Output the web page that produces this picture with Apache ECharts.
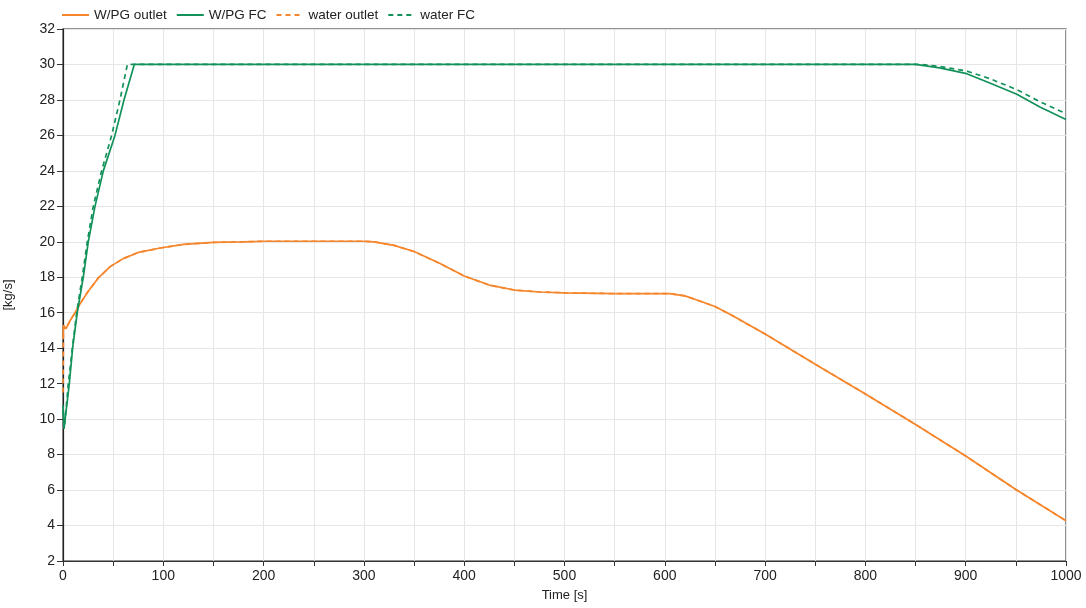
<!DOCTYPE html>
<html>
<head>
<meta charset="utf-8">
<script src="https://cdn.jsdelivr.net/npm/echarts@6/dist/echarts.min.js"></script>
<style>
  html, body { margin: 0; padding: 0; background: #fff; }
  #chart { width: 1086px; height: 608px; }
</style>
</head>
<body>
<div id="chart"></div>
<script>
// Mass flow rates over time [s] in [kg/s]
const seriesNames = ['W/PG outlet', 'W/PG FC', 'water outlet', 'water FC'];

const wpgOutletTime = [0, 0.5, 3, 7, 12, 17, 25, 35, 47, 60, 75, 97, 120, 150, 180, 200, 300, 310, 330, 350, 375, 400, 425, 450, 475, 500, 550, 605, 620, 632, 650, 665, 700, 750, 800, 850, 900, 950, 1000];
const wpgOutletValue = [14.5, 15.3, 15.1, 15.55, 16.0, 16.5, 17.2, 17.95, 18.6, 19.05, 19.4, 19.65, 19.85, 19.97, 20.0, 20.03, 20.03, 20.0, 19.8, 19.45, 18.8, 18.07, 17.56, 17.28, 17.17, 17.12, 17.08, 17.08, 16.95, 16.72, 16.35, 15.91, 14.8, 13.1, 11.42, 9.7, 7.92, 6.03, 4.27];

const wpgFcTime = [0, 1, 6.3, 9.6, 14.2, 20.2, 25.2, 31.9, 40.2, 51.8, 60.8, 71.1, 850, 874, 901, 924, 951, 974, 1000];
const wpgFcValue = [10.8, 9.45, 12, 14, 16, 18, 20, 22, 24, 26, 28, 30, 30, 29.81, 29.48, 28.95, 28.32, 27.6, 26.9];

const waterOutletTime = [0, 0.5, 3, 7, 12, 17, 25, 35, 47, 60, 75, 97, 120, 150, 180, 200, 300, 310, 330, 350, 375, 400, 425, 450, 475, 500, 550, 605, 620, 632, 650, 665, 700, 750, 800, 850, 900, 950, 1000];
const waterOutletValue = [11.5, 15.2, 15.1, 15.55, 16.0, 16.5, 17.2, 17.95, 18.6, 19.05, 19.4, 19.65, 19.85, 19.97, 20.0, 20.03, 20.03, 20.0, 19.8, 19.45, 18.8, 18.07, 17.56, 17.28, 17.17, 17.12, 17.08, 17.08, 16.95, 16.72, 16.35, 15.91, 14.8, 13.1, 11.42, 9.7, 7.92, 6.03, 4.27];

const waterFcTime = [0, 1.5, 5.3, 9.3, 13.6, 19.2, 24.2, 30.2, 38.5, 48.5, 56.8, 64.2, 855, 874, 901, 924, 951, 974, 1000];
const waterFcValue = [10.5, 9.6, 12, 14, 16, 18, 20, 22, 24, 26, 28, 30, 30, 29.89, 29.63, 29.2, 28.58, 27.9, 27.23];

const xTicks = { min: 0, max: 1000, step: 50, labelStep: 100 };
const yTicks = { min: 2, max: 32, step: 2 };

const ORANGE = '#f5862c';
const GREEN = '#12925a';

function pairs(t, v) { return t.map((x, i) => [x, v[i]]); }

function lineSeries(name, t, v, color, dashed, z) {
  return {
    name: name,
    type: 'line',
    data: pairs(t, v),
    showSymbol: false,
    symbol: 'none',
    z: z,
    lineStyle: { color: color, width: 1.7, type: dashed ? [5, 4] : 'solid' },
    itemStyle: { color: color },
    emphasis: { disabled: true },
    animation: false
  };
}

const chart = echarts.init(document.getElementById('chart'), null, { renderer: 'canvas' });

const font = 'Liberation Sans, Arial, sans-serif';

chart.setOption({
  backgroundColor: '#ffffff',
  animation: false,
  textStyle: { fontFamily: font },
  legend: {
    top: 3,
    left: 56,
    itemWidth: 27,
    itemHeight: 12,
    itemGap: 9,
    itemStyle: { opacity: 0 },
    textStyle: { fontSize: 13.5, color: '#222', fontFamily: font },
    data: seriesNames
  },
  grid: {
    left: 63, right: 20, top: 29, bottom: 47,
    outerBoundsMode: 'none',
    containLabel: false,
    show: true,
    borderColor: '#6e6e6e',
    borderWidth: 1.5,
    backgroundColor: 'transparent'
  },
  xAxis: {
    type: 'value',
    min: xTicks.min, max: xTicks.max, interval: xTicks.step,
    name: 'Time [s]',
    nameLocation: 'middle',
    nameGap: 28,
    nameTextStyle: { fontSize: 13, color: '#222', fontFamily: font },
    axisLine: { show: true, onZero: false, lineStyle: { color: '#333', width: 1.2 } },
    axisTick: { show: true, length: 5, lineStyle: { color: '#333' } },
    axisLabel: {
      fontSize: 14, color: '#222', margin: 8, fontFamily: font,
      formatter: v => (v % xTicks.labelStep === 0 ? String(v) : '')
    },
    splitLine: { show: true, lineStyle: { color: '#e6e6e6', width: 1 } }
  },
  yAxis: {
    type: 'value',
    min: yTicks.min, max: yTicks.max, interval: yTicks.step,
    name: '[kg/s]',
    nameLocation: 'middle',
    nameGap: 48,
    nameRotate: 90,
    nameTextStyle: { fontSize: 13, color: '#222', fontFamily: font },
    axisLine: { show: true, onZero: false, lineStyle: { color: '#222', width: 1.2 } },
    axisTick: { show: true, inside: false, length: 6, lineStyle: { color: '#333' } },
    axisLabel: { fontSize: 14, color: '#222', margin: 8, fontFamily: font },
    splitLine: { show: true, lineStyle: { color: '#e6e6e6', width: 1 } }
  },
  series: [
    lineSeries(seriesNames[0], wpgOutletTime, wpgOutletValue, ORANGE, false, 3),
    lineSeries(seriesNames[1], wpgFcTime, wpgFcValue, GREEN, false, 3),
    lineSeries(seriesNames[2], waterOutletTime, waterOutletValue, ORANGE, true, 2),
    lineSeries(seriesNames[3], waterFcTime, waterFcValue, GREEN, true, 4)
  ]
});
</script>
</body>
</html>
